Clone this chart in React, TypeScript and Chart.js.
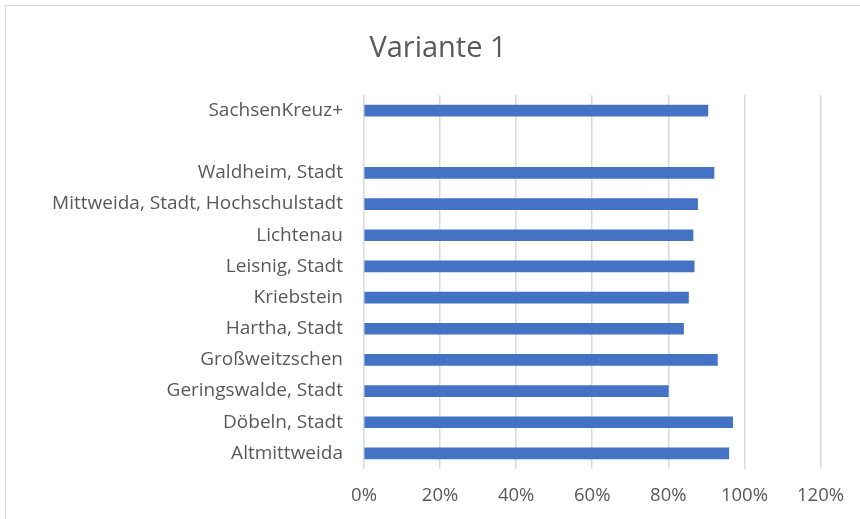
import React, { useEffect, useRef } from "react";
import { Chart, registerables } from "chart.js";

Chart.register(...registerables);

const titleText = "Variante 1";

const categories: string[] = [
  "SachsenKreuz+",
  "",
  "Waldheim, Stadt",
  "Mittweida, Stadt, Hochschulstadt",
  "Lichtenau",
  "Leisnig, Stadt",
  "Kriebstein",
  "Hartha, Stadt",
  "Großweitzschen",
  "Geringswalde, Stadt",
  "Döbeln, Stadt",
  "Altmittweida",
];

const values: (number | null)[] = [
  0.904, null, 0.92, 0.877, 0.865, 0.868, 0.853, 0.84, 0.929, 0.8, 0.969, 0.959,
];

const xTicks: number[] = [0, 0.2, 0.4, 0.6, 0.8, 1.0, 1.2];

const FONT = "'Open Sans', sans-serif";
const TEXT = "#595959";

const titlePlugin = {
  id: "centerTitle",
  afterDraw(chart: any) {
    const ctx = chart.ctx;
    ctx.save();
    ctx.fillStyle = TEXT;
    ctx.font = `29px ${FONT}`;
    ctx.textAlign = "center";
    ctx.textBaseline = "alphabetic";
    ctx.fillText(titleText, 438, 57);
    ctx.restore();
  },
};

export default function App() {
  const ref = useRef<HTMLCanvasElement | null>(null);

  useEffect(() => {
    if (!ref.current) return;
    const chart = new Chart(ref.current, {
      type: "bar",
      data: {
        labels: categories,
        datasets: [
          {
            data: values,
            backgroundColor: "#4472C4",
            borderWidth: 0,
            barThickness: 11,
          },
        ],
      },
      plugins: [titlePlugin],
      options: {
        indexAxis: "y",
        animation: false,
        responsive: false,
        maintainAspectRatio: false,
        layout: { padding: { left: 0, right: 39, top: 95, bottom: 0 } },
        plugins: {
          legend: { display: false },
          tooltip: { enabled: false },
          title: { display: false },
        },
        scales: {
          x: {
            min: 0,
            max: 1.2,
            afterBuildTicks: (scale: any) => {
              scale.ticks = xTicks.map((v) => ({ value: v }));
            },
            afterFit: (scale: any) => {
              scale.height = 50;
            },
            grid: { color: "#d9d9d9", lineWidth: 1.5, drawTicks: false },
            border: { display: false },
            ticks: {
              color: TEXT,
              font: { family: FONT, size: 18.5 },
              padding: 16,
              callback: (v: any) => Math.round(Number(v) * 100) + "%",
            },
          },
          y: {
            afterFit: (scale: any) => {
              scale.width = 364;
            },
            grid: { display: false, drawTicks: false },
            border: { display: false },
            ticks: {
              color: TEXT,
              font: { family: FONT, size: 19 },
              padding: 21,
              autoSkip: false,
            },
          },
        },
      },
    });
    return () => chart.destroy();
  }, []);

  return (
    <div style={{ position: "fixed", left: 0, top: 0, width: 860, height: 519, background: "#fff", overflow: "hidden" }}>
      <div
        style={{
          position: "absolute",
          left: 5,
          top: 5,
          width: 900,
          height: 600,
          border: "1.5px solid #d9d9d9",
          boxSizing: "border-box",
        }}
      />
      <canvas ref={ref} width={860} height={519} style={{ position: "absolute", left: 0, top: 0 }} />
    </div>
  );
}
